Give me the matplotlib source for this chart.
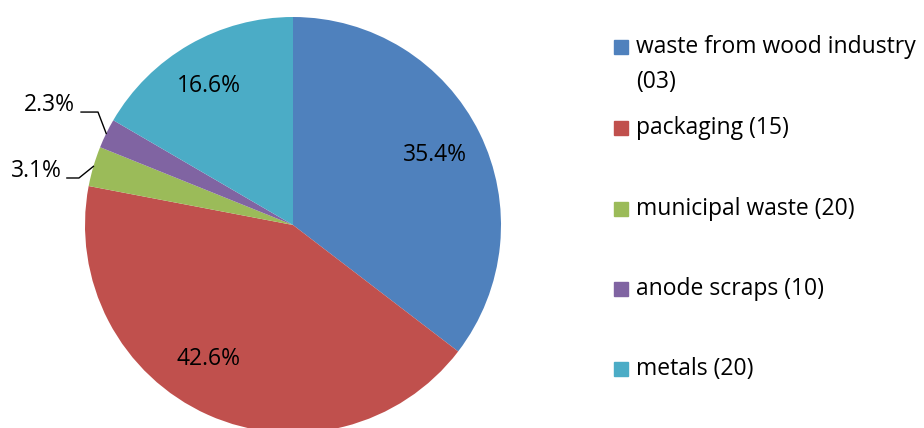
import numpy as np
import matplotlib.pyplot as plt
from matplotlib.patches import Rectangle

plt.rcParams['font.family'] = ['Open Sans', 'DejaVu Sans']

labels = ["waste from wood industry\n(03)", "packaging (15)", "municipal waste (20)",
          "anode scraps (10)", "metals (20)"]
shares = [35.4, 42.6, 3.1, 2.3, 16.6]
colors = ['#4F81BD', '#C0504D', '#9BBB59', '#8064A2', '#4BACC6']

fig = plt.figure(figsize=(9.24, 4.28), dpi=100)
W, H = 924, 428
cx, cy, r = 293, 225, 208
ax = fig.add_axes([(cx - r) / W, (H - cy - r) / H, 2 * r / W, 2 * r / H])

wedges, _ = ax.pie(shares, colors=colors, startangle=90, counterclock=False,
                   radius=1, wedgeprops=dict(linewidth=0))
ax.set_xlim(-1, 1)
ax.set_ylim(-1, 1)
ax.set_aspect('equal')
ax.axis('off')

fs = 16.5
# inside labels for big slices
inside = {0: 0.76, 1: 0.76, 4: 0.78}
shift = {0: 0, 1: -8, 4: 1.5}
for i, d in inside.items():
    w = wedges[i]
    ang = np.deg2rad((w.theta1 + w.theta2) / 2 + shift[i])
    ax.text(d * np.cos(ang), d * np.sin(ang), f"{shares[i]}%",
            ha='center', va='center', fontsize=fs)

# small slices with leader lines (text end x, baseline y, line start, knee)
outside = {2: (-1.111, 0.226, -1.087, -1.029), 3: (-1.048, 0.543, -1.019, -0.9375)}
for i, (tx, ty, x0, x1) in outside.items():
    w = wedges[i]
    ang = np.deg2rad((w.theta1 + w.theta2) / 2)
    ex, ey = np.cos(ang), np.sin(ang)
    ax.plot([x0, x1, ex], [ty, ty, ey], color='black', lw=1, clip_on=False)
    ax.text(tx, ty + 0.005, f"{shares[i]}%", ha='right', va='baseline', fontsize=fs)

# legend
ys = [47, 128, 209, 289, 369]
for lab, col, y in zip(labels, colors, ys):
    fig.patches.append(Rectangle((614 / W, 1 - (y + 7) / H), 14 / W, 14 / H,
                                 transform=fig.transFigure, color=col))
    for k, line in enumerate(lab.split('\n')):
        fig.text(636 / W, 1 - (y + 35 * k) / H, line, ha='left', va='center',
                 fontsize=fs, transform=fig.transFigure)

fig.savefig('out.png', dpi=100)
